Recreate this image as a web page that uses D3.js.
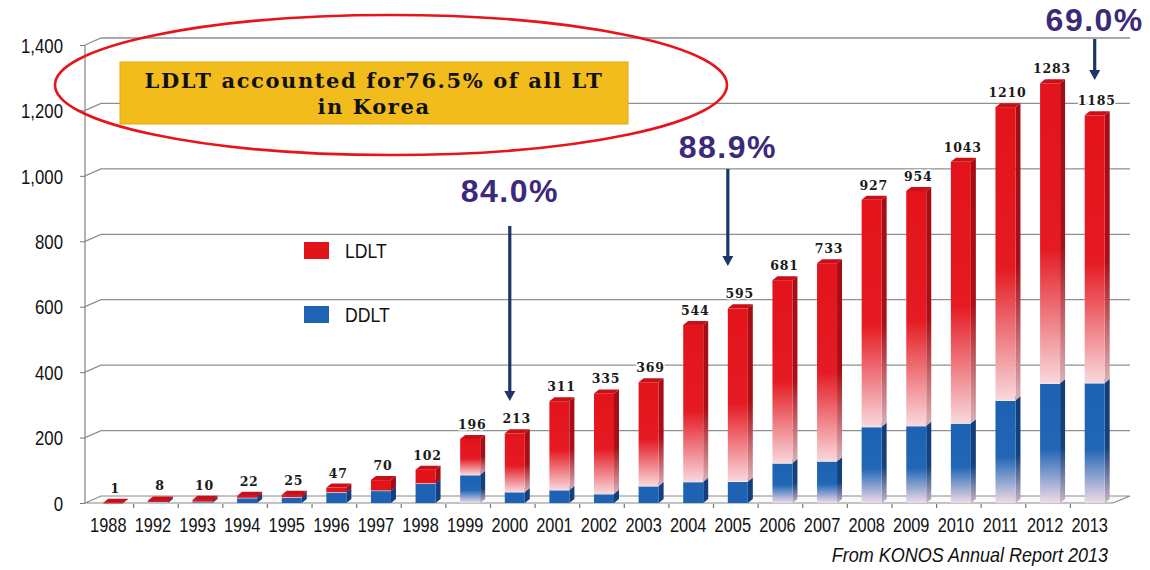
<!DOCTYPE html>
<html lang="en">
<head>
  <meta charset="UTF-8">
  <title>LDLT vs DDLT in Korea</title>
  <script src="https://d3js.org/d3.v7.min.js"></script>
  <style>
    * { margin: 0; padding: 0; }
    html, body { background: #fff; }
    svg { display: block; }
    .narrow { font-family: "Liberation Sans", Arial, sans-serif; }
  </style>
</head>
<body>
  <svg id="chart" width="1150" height="570"></svg>

  <script>
    // data
    var years = ["1988","1992","1993","1994","1995","1996","1997","1998","1999","2000","2001","2002",
                 "2003","2004","2005","2006","2007","2008","2009","2010","2011","2012","2013"];
    var ldlt = [1, 5, 6, 6, 7, 14, 32, 42, 110, 179, 271, 307, 317, 479, 529, 559, 605, 694, 718, 799, 896, 917, 818];
    var ddlt = [0, 3, 4, 16, 18, 33, 38, 60, 86, 34, 40, 28, 52, 65, 66, 122, 128, 233, 236, 244, 314, 366, 367];
    var yTicks = [0, 200, 400, 600, 800, 1000, 1200, 1400];
    var callYears = ["2000", "2005", "2013"];
    var callLabels = ["84.0%", "88.9%", "69.0%"];
    var noteLines = ["LDLT accounted for76.5% of all LT", "in Korea"];
    var sourceText = "From KONOS Annual Report 2013";

    var svg = d3.select("#chart");
    var squeeze = 0.84;   // fake a condensed face

    // 3d-ish frame
    var x0 = 85, x1 = 1113, depthX = 16, depthY = 7;
    var y = d3.scaleLinear().domain([0, 1400]).range([503, 45]);
    var x = d3.scaleBand().domain(years).range([93, 1119]);
    var barW = 20, bdx = 5, bdy = 4;
    function cx(d) { return x(d) + x.bandwidth() / 2 - 2; }

    var defs = svg.append("defs");
    function grad(id, stops) {
      var g = defs.append("linearGradient").attr("id", id)
        .attr("x1", 0).attr("y1", 0).attr("x2", 0).attr("y2", 1);
      stops.forEach(function(s) {
        g.append("stop").attr("offset", s[0]).attr("stop-color", s[1]);
      });
    }
    grad("redFade", [[0, "#e3131b"], [0.55, "#e51a22"], [1, "#f8d8dc"]]);
    grad("redSide", [[0, "#a50d15"], [0.55, "#a80f17"], [1, "#d9b0b6"]]);
    grad("blueFade", [[0, "#1d62b2"], [0.55, "#2167b6"], [1, "#f0dbe6"]]);
    grad("blueSide", [[0, "#123d78"], [0.55, "#154280"], [1, "#c9b4c6"]]);

    // floor
    svg.append("path")
      .attr("d", "M" + x0 + "," + y(0) + "L" + (x0 + depthX) + "," + (y(0) - depthY) +
                 "L" + (x1 + depthX + 1) + "," + (y(0) - depthY) + "L" + x1 + "," + y(0) + "Z")
      .attr("fill", "#fafafa").attr("stroke", "#8a8a8a").attr("stroke-width", 1.2);

    // gridlines on the back wall
    svg.append("g").selectAll("path").data(yTicks.slice(1)).join("path")
      .attr("d", function(t) {
        return "M" + x0 + "," + y(t) + "L" + (x0 + depthX) + "," + (y(t) - depthY) +
               "L" + (x1 + depthX + 1) + "," + (y(t) - depthY);
      })
      .attr("fill", "none").attr("stroke", "#8f8f8f").attr("stroke-width", 1.3);

    // y axis
    var yAxis = svg.append("g").attr("transform", "translate(" + x0 + ",0)")
      .call(d3.axisLeft(y).tickValues(yTicks).tickFormat(d3.format(",")).tickSize(5).tickPadding(17));
    yAxis.select(".domain").attr("stroke", "#8a8a8a").attr("stroke-width", 1.3)
      .attr("d", "M0," + y(0) + "V" + y(1400));
    yAxis.selectAll(".tick line").attr("stroke", "#777");
    yAxis.selectAll(".tick text").attr("class", "narrow")
      .attr("font-size", 20).attr("fill", "#111").attr("dy", "0.36em")
      .attr("x", -22 / squeeze).attr("transform", "scale(" + squeeze + ",1)");

    // small boundary ticks under the floor
    svg.append("g").selectAll("line").data(years.slice(1)).join("line")
      .attr("x1", function(d) { return x(d) - 4; }).attr("x2", function(d) { return x(d) - 4; })
      .attr("y1", y(0) + 1).attr("y2", y(0) + 5)
      .attr("stroke", "#777").attr("stroke-width", 1.2);

    // x labels
    var xAxis = svg.append("g").attr("transform", "translate(-7," + (y(0) + 9) + ")")
      .call(d3.axisBottom(x).tickSize(0).tickPadding(6));
    xAxis.select(".domain").remove();
    xAxis.selectAll(".tick text").attr("class", "narrow")
      .attr("font-size", 19.5).attr("fill", "#111")
      .attr("transform", "scale(" + squeeze + ",1)");

    // stacked bars
    var rows = years.map(function(yr, i) { return { year: yr, DDLT: ddlt[i], LDLT: ldlt[i] }; });
    var stacked = d3.stack().keys(["DDLT", "LDLT"])(rows);
    var faces = {
      DDLT: { front: "url(#blueFade)", flat: "#1e63b3", side: "url(#blueSide)", flatSide: "#143f7c", top: "#2a70bf" },
      LDLT: { front: "url(#redFade)", flat: "#e3131b", side: "url(#redSide)", flatSide: "#a50d15", top: "#c90f18" }
    };

    stacked.forEach(function(layer) {
      var f = faces[layer.key];
      var g = svg.append("g");
      layer.forEach(function(s) {
        if (s[1] - s[0] <= 0) return;
        var left = cx(s.data.year) - barW / 2;
        var yt = y(s[1]), yb = y(s[0]);
        var h = yb - yt;
        var tall = h > 28;
        g.append("path")
          .attr("d", "M" + (left + barW) + "," + yb + "L" + (left + barW + bdx) + "," + (yb - bdy) +
                     "L" + (left + barW + bdx) + "," + (yt - bdy) + "L" + (left + barW) + "," + yt + "Z")
          .attr("fill", tall ? f.side : f.flatSide);
        g.append("rect").attr("x", left).attr("y", yt).attr("width", barW).attr("height", Math.max(h, 0.8))
          .attr("fill", tall ? f.front : f.flat);
        g.append("path")
          .attr("d", "M" + left + "," + yt + "L" + (left + bdx) + "," + (yt - bdy) +
                     "L" + (left + barW + bdx) + "," + (yt - bdy) + "L" + (left + barW) + "," + yt + "Z")
          .attr("fill", f.top);
        if (layer.key === "DDLT") {
          g.append("line").attr("x1", left).attr("x2", left + barW).attr("y1", yt).attr("y2", yt)
            .attr("stroke", "#fff").attr("stroke-width", 1.2);
        }
      });
    });

    // totals above the bars
    svg.append("g").selectAll("text").data(stacked[1]).join("text")
      .attr("x", function(s) { return cx(s.data.year) + 2; })
      .attr("y", function(s) { return y(s[1]) - 10; })
      .attr("text-anchor", "middle")
      .attr("font-family", "'DejaVu Serif', serif").attr("font-weight", "bold")
      .attr("font-size", 12.5).attr("letter-spacing", 0.8).attr("fill", "#1a1a1a")
      .attr("stroke", "#fff").attr("stroke-width", 3).attr("paint-order", "stroke")
      .text(function(s) { return s[1]; });

    // legend
    var legend = svg.append("g").attr("transform", "translate(304,242)");
    [["LDLT", "#e1141c"], ["DDLT", "#1d64b5"]].forEach(function(l, i) {
      var row = legend.append("g").attr("transform", "translate(0," + (i * 64) + ")");
      row.append("rect").attr("width", 25).attr("height", 17).attr("fill", l[1]);
      row.append("text").attr("class", "narrow").attr("x", 41 / squeeze).attr("y", 16)
        .attr("font-size", 21).attr("fill", "#111")
        .attr("transform", "scale(" + squeeze + ",1)").text(l[0]);
    });

    // percentage callouts with arrows
    var callTextY = [202, 158, 31], callTop = [226, 169, 39], callTip = [401, 266, 80], callShift = [-5, -10, 0];
    var call = svg.append("g");
    callYears.forEach(function(yr, i) {
      var ax = cx(yr) + callShift[i];
      call.append("line").attr("x1", ax).attr("x2", ax).attr("y1", callTop[i]).attr("y2", callTip[i] - 8)
        .attr("stroke", "#1e3568").attr("stroke-width", 3.2);
      call.append("path")
        .attr("d", "M" + (ax - 5.5) + "," + (callTip[i] - 10) + "L" + (ax + 5.5) + "," + (callTip[i] - 10) +
                   "L" + ax + "," + callTip[i] + "Z")
        .attr("fill", "#1e3568");
      call.append("text").attr("x", ax).attr("y", callTextY[i]).attr("text-anchor", "middle")
        .attr("font-family", "'Liberation Sans', Arial, sans-serif").attr("font-weight", "bold")
        .attr("font-size", 32).attr("letter-spacing", 1.5).attr("fill", "#3b2a7c")
        .text(callLabels[i]);
    });

    // note box + red ellipse
    svg.append("rect").attr("x", 120).attr("y", 62).attr("width", 508).attr("height", 62)
      .attr("fill", "#f2bc1c").attr("stroke", "#e0a812").attr("stroke-width", 1);
    svg.append("g").selectAll("text").data(noteLines).join("text")
      .attr("x", 374).attr("y", function(d, i) { return 88 + i * 26; })
      .attr("text-anchor", "middle")
      .attr("font-family", "'DejaVu Serif', serif").attr("font-weight", "bold")
      .attr("font-size", 21).attr("letter-spacing", 1.6).attr("fill", "#111")
      .text(function(d) { return d; });
    svg.append("ellipse").attr("cx", 391).attr("cy", 85).attr("rx", 336).attr("ry", 70)
      .attr("fill", "none").attr("stroke", "#e8141c").attr("stroke-width", 2.6);

    // source
    svg.append("g").attr("transform", "translate(1108,562) scale(0.9,1)")
      .append("text").attr("class", "narrow")
      .attr("text-anchor", "end").attr("font-style", "italic").attr("font-size", 20).attr("fill", "#111")
      .text(sourceText);
  </script>
</body>
</html>
